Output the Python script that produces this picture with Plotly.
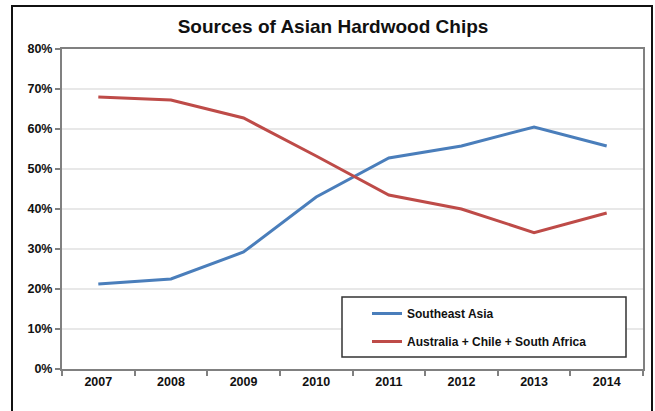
import plotly.graph_objects as go

years = ["2007", "2008", "2009", "2010", "2011", "2012", "2013", "2014"]
southeast_asia = [0.2125, 0.225, 0.2925, 0.43, 0.5275, 0.5575, 0.605, 0.5575]
aus_chile_sa = [0.68, 0.6725, 0.6275, 0.5325, 0.435, 0.40, 0.341, 0.39]
series_names = ["Southeast Asia", "Australia + Chile + South Africa"]
colors = ["#4a7ebb", "#be4b48"]

fig = go.Figure()
for name, vals, col, grp in zip(series_names, [southeast_asia, aus_chile_sa], colors, ["a", "b"]):
    fig.add_trace(go.Scatter(x=years, y=vals, mode="lines", name=name,
                             legendgroup=grp,
                             line=dict(color=col, width=3)))

W, H = 655, 411
ml, mr, mt, mb = 62, 12, 49, 42
pw, ph = W - ml - mr, H - mt - mb

def px(x):
    return (x - ml) / pw

def py(y):
    return (H - mb - y) / ph

fig.update_layout(
    width=W, height=H,
    margin=dict(l=ml, r=mr, t=mt, b=mb, autoexpand=False),
    paper_bgcolor="white", plot_bgcolor="white",
    font=dict(family="Liberation Sans, Arial, sans-serif", color="#222222"),
    title=dict(text="<b>Sources of Asian Hardwood Chips</b>", x=333 / W, xref="container",
               y=1 - 26 / H, yanchor="middle", xanchor="center",
               font=dict(size=19, color="#111111")),
    showlegend=True,
    legend=dict(x=px(367), y=py(299), xanchor="left", yanchor="top",
                bgcolor="rgba(0,0,0,0)", borderwidth=0,
                traceorder="grouped", tracegroupgap=9,
                font=dict(size=12, color="#111111", weight="bold")),
    xaxis=dict(type="category", range=[-0.5, len(years) - 0.5],
               tickson="boundaries", ticks="outside", ticklen=5,
               tickcolor="#808080", tickwidth=1.5,
               showline=True, linecolor="#808080", linewidth=2, mirror=True,
               showgrid=False, automargin=False,
               tickfont=dict(size=12.5, color="#111111", weight="bold")),
    yaxis=dict(range=[0, 0.8], dtick=0.1, tickformat=".0%", ticks="outside", ticklen=5,
               tickcolor="#808080", tickwidth=1.5,
               showline=True, linecolor="#808080", linewidth=2, mirror=True,
               showgrid=True, gridcolor="#e8e8e8", gridwidth=1.5, zeroline=False,
               automargin=False,
               tickfont=dict(size=12.5, color="#111111", weight="bold")),
    shapes=[
        dict(type="rect", xref="paper", yref="paper",
             x0=px(342), x1=px(626), y0=py(357), y1=py(297),
             line=dict(color="#333333", width=1.5), fillcolor="white", layer="above"),
        dict(type="rect", xref="paper", yref="paper",
             x0=px(12), x1=px(652), y0=py(420), y1=py(6),
             line=dict(color="#111111", width=2), fillcolor="rgba(0,0,0,0)", layer="above"),
    ],
)

fig.write_html("out.html")
